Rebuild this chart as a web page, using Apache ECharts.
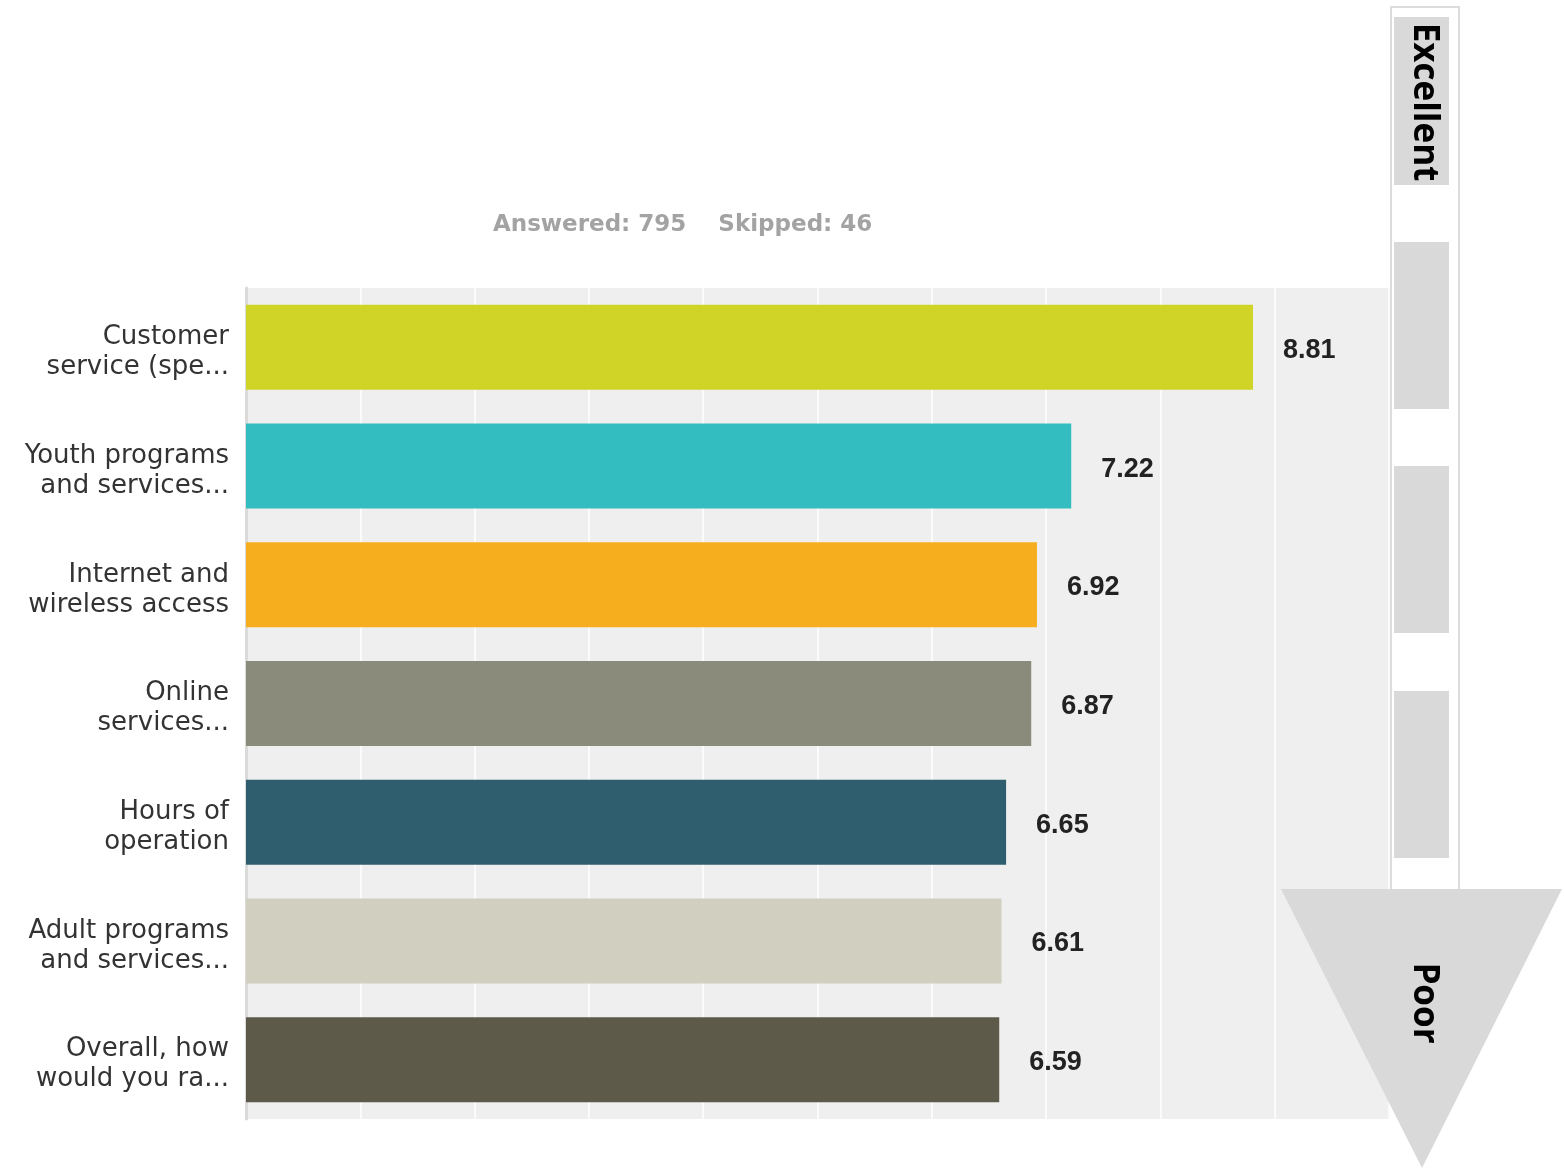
<!DOCTYPE html>
<html>
<head>
<meta charset="utf-8">
<script src="https://cdn.jsdelivr.net/npm/echarts@6/dist/echarts.min.js"></script>
<style>html,body{margin:0;padding:0;background:#fff}#c{width:1564px;height:1169px}</style>
</head>
<body>
<div id="c"></div>
<script>
const categories = [
  "Customer\nservice (spe...",
  "Youth programs\nand services...",
  "Internet and\nwireless access",
  "Online\nservices...",
  "Hours of\noperation",
  "Adult programs\nand services...",
  "Overall, how\nwould you ra..."
];
const values = [8.81, 7.22, 6.92, 6.87, 6.65, 6.61, 6.59];
const barColors = ["#cfd427", "#33bdc0", "#f6ae1f", "#8a8b7a", "#2f5f6e", "#d1cfc0", "#5d5a4a"];
const summaryText = "Answered: 795    Skipped: 46";
const scaleTop = "Excellent";
const scaleBottom = "Poor";

const chart = echarts.init(document.getElementById('c'), null, {renderer: 'canvas'});
chart.setOption({
  animation: false,
  backgroundColor: '#ffffff',
  title: {
    text: summaryText,
    left: 488, top: 209,
    textStyle: {fontFamily: 'DejaVu Sans', fontWeight: 'bold', fontSize: 23, color: '#a3a3a3'}
  },
  grid: {
    left: 246, right: 175, top: 288, bottom: 50,
    show: true, backgroundColor: '#efefef', borderWidth: 0
  },
  xAxis: {
    type: 'value', min: 0, max: 10, interval: 1,
    axisLabel: {show: false}, axisLine: {show: false}, axisTick: {show: false},
    splitLine: {show: true, lineStyle: {color: '#fbfbfb', width: 2}}
  },
  yAxis: {
    type: 'category', data: categories, inverse: true,
    axisLine: {show: true, lineStyle: {color: '#dadada', width: 3}},
    axisTick: {show: false},
    axisLabel: {
      margin: 17, align: 'right',
      formatter: v => '{s|}\n' + v.split('\n').map(l => '{a|' + l + '}').join('\n'),
      rich: {
        s: {lineHeight: 10, fontSize: 1},
        a: {fontFamily: 'DejaVu Sans', fontSize: 26, lineHeight: 30, color: '#333333', align: 'right'}
      }
    }
  },
  series: [{
    type: 'bar',
    data: values.map((v, i) => ({value: v, itemStyle: {color: barColors[i]}})),
    barWidth: 85,
    label: {
      show: true, position: 'right', distance: 30, offset: [0, 3],
      formatter: p => p.value.toFixed(2),
      fontFamily: 'Liberation Sans', fontWeight: 'bold', fontSize: 27, color: '#222'
    }
  }],
  graphic: [
    {type: 'rect', shape: {x: 1391, y: 7, width: 68, height: 890},
     style: {fill: '#fff', stroke: '#dcdcdc', lineWidth: 2}, z: 10},
    {type: 'rect', shape: {x: 1394, y: 17, width: 55, height: 168}, style: {fill: '#d9d9d9'}, z: 11},
    {type: 'rect', shape: {x: 1394, y: 242, width: 55, height: 167}, style: {fill: '#d9d9d9'}, z: 11},
    {type: 'rect', shape: {x: 1394, y: 466, width: 55, height: 167}, style: {fill: '#d9d9d9'}, z: 11},
    {type: 'rect', shape: {x: 1394, y: 691, width: 55, height: 167}, style: {fill: '#d9d9d9'}, z: 11},
    {type: 'polygon', shape: {points: [[1281, 889], [1562, 889], [1422, 1168]]},
     style: {fill: '#d9d9d9'}, z: 12},
    {type: 'text', x: 1424, y: 102, rotation: -Math.PI / 2, z: 13,
     style: {text: scaleTop, fontFamily: 'Open Sans', fontWeight: 'bold', fontSize: 35,
             fill: '#000', align: 'center', verticalAlign: 'middle'}},
    {type: 'text', x: 1424, y: 1003, rotation: -Math.PI / 2, z: 13,
     style: {text: scaleBottom, fontFamily: 'Open Sans', fontWeight: 'bold', fontSize: 35,
             fill: '#000', align: 'center', verticalAlign: 'middle'}}
  ]
});
</script>
</body>
</html>
